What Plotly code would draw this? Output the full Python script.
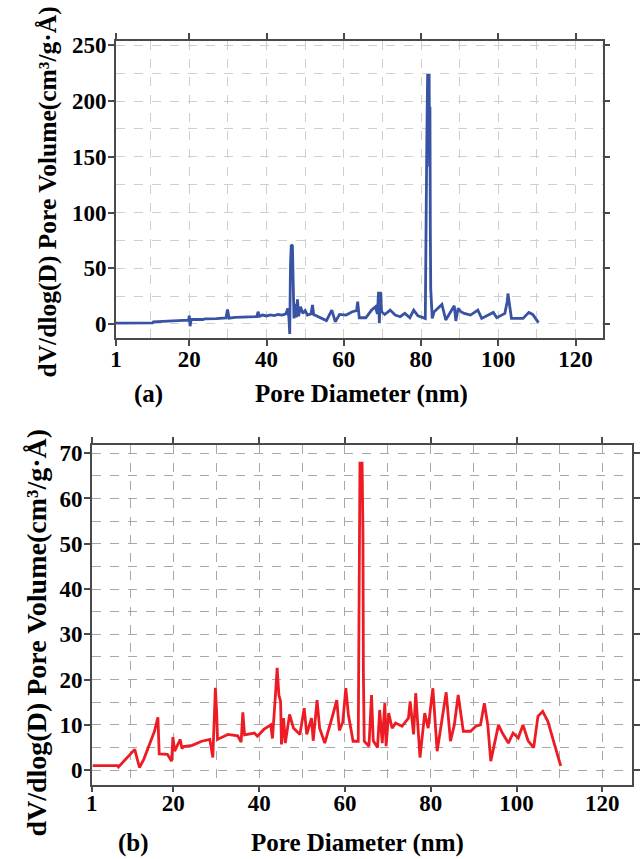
import plotly.graph_objects as go

# ---------------- data: panel (a) ----------------
a_diameter = [1.0, 5, 10.5, 10.7, 15.5, 15.7, 19.8, 20.0, 20.2, 20.5, 23.5, 24, 27, 29.5, 29.9, 30.3,
              31.8, 34, 37.5, 37.8, 38.2, 39, 40, 41, 42, 43, 44, 45, 45.5, 45.8, 46.0, 46.2, 46.4,
              46.7, 46.9, 47.1, 47.4, 47.7, 48.0, 48.3, 48.8, 49.4, 50.0, 50.6, 51.5, 51.9, 52.2,
              53.8, 55.5, 56.9, 57.8, 58.9, 60.6, 62.2, 63.3, 63.6, 64.0, 65.7, 67.2, 68.2, 68.7,
              69.0, 69.2, 69.5, 69.8, 70.6, 72, 73.3, 74.6, 75.8, 77.1, 78.1, 79.2, 81.1, 81.2,
              81.5, 81.7, 82.1, 82.2, 82.3, 82.4, 82.5, 82.9, 83.4, 85.4, 86.4, 88.6, 89.0, 89.6,
              90.3, 91.2, 92.8, 94.7, 95.7, 98.7, 99.6, 101.7, 102.3, 102.5, 102.9, 103.4, 106.4,
              107.9, 108.9, 110.4]
a_volume = [0.8, 0.8, 1.0, 1.8, 2.2, 2.8, 3.5, 7.5, -2.0, 4.2, 4.0, 4.5, 4.8, 5.5, 13, 5.2,
            6.0, 6.2, 6.6, 11, 6.8, 8, 7.2, 8.2, 7.5, 8.5, 8, 9, 14, 5, -9, 53, 71,
            70, 38, 5, 18, 6, 22, 7, 15.5, 9.5, 12, 8, 9, 17, 8.5,
            5.6, 3, 12.5, 2, 8.6, 8, 11, 12, 20, 5.6, 5.6, 12.5, 15.4, 9,
            28.8, 0.6, 28.8, 11, 8.5, 12.5, 8, 6.5, 9.5, 5.6, 12.5, 7.4, 5, 60,
            168, 223, 223, 141, 195, 87, 31.7, 5, 11, 17.5, 3.6, 16.3, 2.7, 14,
            11, 9.5, 8, 12.5, 5, 10.4, 5.6, 9.5, 20, 27.3, 17, 5, 5,
            10.4, 8.6, 1.2]

# ---------------- data: panel (b) ----------------
b_diameter = [1.2, 3.6, 7.0, 7.2, 11.0, 11.4, 12.1, 13.1, 15.6, 16.4, 16.7, 18.6, 19.6, 19.9,
              20.3, 21.6, 22.0, 22.4, 24.4, 26.6, 28.5, 29.2, 29.5, 29.8, 30.1, 30.3, 32.7,
              35.0, 35.8, 36.2, 36.6, 38.9, 39.6, 41.1, 42.7, 43.1, 43.8, 44.2, 44.6, 45.0,
              45.2, 45.7, 46.1, 47.1, 48.0, 49.5, 50.5, 51.1, 52.2, 52.6, 53.5, 54.1, 55.3,
              56.4, 57.2, 58.1, 58.7, 59.5, 60.2, 60.8, 61.9, 63.1, 63.3, 63.5, 64.0, 64.2,
              64.3, 64.5, 65.6, 66.2, 66.6, 67.6, 68.1, 68.7, 69.3, 69.6, 70.2, 71.0, 71.8,
              73.3, 74.8, 75.2, 76.0, 76.5, 77.5, 78.6, 79.4, 80.5, 81.5, 82.4, 83.6, 84.6,
              85.5, 86.4, 87.6, 89.3, 90.5, 91.6, 92.5, 93.3, 94.0, 95.8, 96.7, 98.1, 99.2,
              100.4, 101.5, 102.7, 104.0, 105.0, 106.1, 107.3, 110.3]
b_volume = [1.0, 1.0, 1.0, 0.7, 4.6, 3.1, 0.6, 2.4, 8.6, 11.7, 3.6, 3.5, 2.0, 7.3,
            4.2, 6.8, 4.8, 5.2, 5.5, 6.4, 6.8, 2.8, 9.0, 18.2, 12.6, 6.8, 7.9,
            7.6, 6.2, 12.8, 7.8, 8.2, 7.5, 9.0, 10.0, 7.0, 16.6, 22.6, 16.6, 15.2,
            5.7, 11.5, 6.0, 12.3, 9.3, 7.9, 13.7, 7.9, 11.5, 6.5, 15.5, 9.3, 6.0,
            10.0, 12.3, 15.5, 8.8, 10.6, 18.1, 12.3, 6.4, 6.4, 40.7, 67.8, 67.8, 52.4,
            21.7, 6.4, 5.3, 16.6, 6.5, 5.0, 13.3, 6.0, 14.8, 5.3, 12.6, 9.3, 10.4,
            9.7, 11.5, 15.2, 7.9, 17.0, 2.8, 12.6, 9.3, 18.1, 4.2, 10.1, 17.2, 6.4,
            10.0, 16.6, 8.6, 8.6, 9.7, 10.0, 14.8, 10.0, 2.0, 10.0, 8.2, 6.0, 8.2,
            7.1, 10.0, 6.5, 5.0, 11.9, 13.0, 10.8, 0.95]

x_tickvals = [1, 20, 40, 60, 80, 100, 120]
x_minor_vals = [10, 30, 50, 70, 90, 110]
a_y_tickvals = [0, 50, 100, 150, 200, 250]
b_y_tickvals = [0, 10, 20, 30, 40, 50, 60, 70]

y_title = "dV/dlog(D) Pore Volume(cm³/g·Å)"
x_title = "Pore Diameter (nm)"

FONT = "Liberation Serif"
W, H = 640, 859

def px(x):
    return x / W

def py(y):
    return 1 - y / H

fig = go.Figure()
fig.add_trace(go.Scatter(x=a_diameter, y=a_volume, mode="lines",
                         line=dict(color="#3953a4", width=2.8), xaxis="x", yaxis="y",
                         showlegend=False))
fig.add_trace(go.Scatter(x=b_diameter, y=b_volume, mode="lines",
                         line=dict(color="#ed1c24", width=2.8), xaxis="x2", yaxis="y2",
                         showlegend=False))

box = dict(showline=True, linecolor="#4a4a4a", linewidth=1.5, mirror="ticks",
           ticks="outside", tickcolor="#4a4a4a", tickwidth=1.5, ticklen=6,
           zeroline=False)

gridA = dict(gridcolor="#cfcfcf", griddash="dash", gridwidth=1)
gridB = dict(gridcolor="#a8a8a8", griddash="dash", gridwidth=1)

fig.update_layout(
    width=W, height=H,
    margin=dict(l=0, r=0, t=0, b=0),
    paper_bgcolor="white", plot_bgcolor="white",
    font=dict(family=FONT, color="black", weight="bold"),
    xaxis=dict(domain=[px(112), px(608)], anchor="y", range=[1, 127],
               tickvals=x_tickvals, ticktext=[str(v) for v in x_tickvals],
               tickfont=dict(size=23, family=FONT, weight="bold"), ticklabelstandoff=-6,
               showgrid=True, **gridA,
               minor=dict(tickvals=x_minor_vals, showgrid=True, gridcolor="#cfcfcf",
                          griddash="dash", ticks=""),
               **box),
    yaxis=dict(domain=[py(333), py(33.5)], anchor="x", range=[-12.5, 253.8],
               tickvals=a_y_tickvals, tickfont=dict(size=23, family=FONT, weight="bold"),
               ticklabelstandoff=-3,
               showgrid=True, **gridA,
               minor=dict(dtick=25, tick0=0, showgrid=True, gridcolor="#cfcfcf",
                          griddash="dash", ticks=""),
               **box),
    xaxis2=dict(domain=[px(87.5), px(638.3)], anchor="y2", range=[1, 127],
                tickvals=x_tickvals, ticktext=[str(v) for v in x_tickvals],
                tickfont=dict(size=23, family=FONT, weight="bold"), ticklabelstandoff=-9,
                showgrid=True, **gridB,
                minor=dict(tickvals=x_minor_vals, showgrid=True, gridcolor="#a8a8a8",
                           griddash="dash", ticks=""),
                **box),
    yaxis2=dict(domain=[py(784), py(440.7)], anchor="x2", range=[-3.2, 71.9],
                tickvals=b_y_tickvals, tickfont=dict(size=23, family=FONT, weight="bold"),
                ticklabelstandoff=-3,
                showgrid=True, **gridB,
                minor=dict(dtick=5, tick0=0, showgrid=True, gridcolor="#a8a8a8",
                           griddash="dash", ticks=""),
                **box),
)

ann = [
    dict(text=y_title, x=px(42.5), y=py(185.5), textangle=-90, size=25.5),
    dict(text=x_title, x=px(362.5), y=py(390), textangle=0, size=25),
    dict(text="(a)", x=px(145), y=py(390), textangle=0, size=25),
    dict(text=y_title, x=px(31), y=py(630), textangle=-90, size=28),
    dict(text=x_title, x=px(358), y=py(843), textangle=0, size=25),
    dict(text="(b)", x=px(130), y=py(843), textangle=0, size=25),
]
for a in ann:
    fig.add_annotation(text=a["text"], x=a["x"], y=a["y"], xref="paper", yref="paper",
                       xanchor="center", yanchor="middle", textangle=a["textangle"],
                       showarrow=False,
                       font=dict(family=FONT, size=a["size"], color="black", weight="bold"))

fig.write_html("out.html")
